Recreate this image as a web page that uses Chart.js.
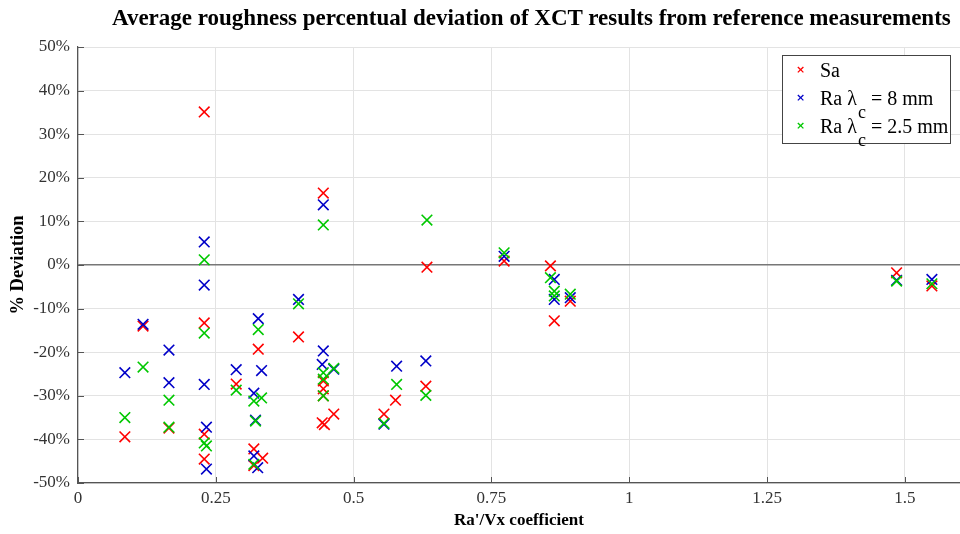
<!DOCTYPE html>
<html>
<head>
<meta charset="utf-8">
<script src="https://cdn.jsdelivr.net/npm/chart.js@4/dist/chart.umd.min.js"></script>
<style>
  html, body { margin: 0; padding: 0; background: #fff; overflow: hidden; }
  #wrap { position: relative; width: 960px; height: 534px; overflow: hidden; }
  #title {
    position: absolute; left: 112px; top: 5px; white-space: nowrap;
    font: bold 23px "Liberation Serif", "Times New Roman", serif; color: #000;
  }
  #legend {
    position: absolute; left: 782px; top: 55px; width: 169px; height: 89px;
    border: 1px solid #444; background: #fff; box-sizing: border-box;
    font: 20px "Liberation Serif", "Times New Roman", serif; color: #000;
  }
  #legend .row { position: absolute; left: 0; height: 22px; line-height: 22px; white-space: nowrap; }
  #legend .mk { position: absolute; left: 13px; top: 0; font: bold 11px/22px "DejaVu Sans", sans-serif; }
  #legend .tx { position: absolute; left: 37px; top: 0; }
  #legend sub { font-size: 18px; vertical-align: -13px; line-height: 0; margin-left: 1px; }
</style>
</head>
<body>
<div id="wrap">
  <canvas id="plot" width="960" height="534"></canvas>
  <div id="title">Average roughness percentual deviation of XCT results from reference measurements</div>
  <div id="legend">
    <div class="row" style="top:3px"><span class="mk" style="color:#f00">×</span><span class="tx">Sa</span></div>
    <div class="row" style="top:31px"><span class="mk" style="color:#0000c8">×</span><span class="tx">Ra λ<sub>c</sub> = 8 mm</span></div>
    <div class="row" style="top:59px"><span class="mk" style="color:#00c800">×</span><span class="tx">Ra λ<sub>c</sub> = 2.5 mm</span></div>
  </div>
</div>
<script>
// Sa deviation (%) against Ra'/Vx
const saX = [0.085, 0.118, 0.165, 0.229, 0.229, 0.229, 0.229, 0.287, 0.319, 0.335, 0.319, 0.327, 0.400,
  0.445, 0.445, 0.445, 0.445, 0.443, 0.447, 0.464, 0.555, 0.576, 0.633, 0.631, 0.773, 0.857, 0.864, 0.893, 1.485, 1.549];
const saY = [-39.4, -14.0, -37.4, 35.1, -13.3, -38.8, -44.5, -27.3, -42.2, -44.3, -46.0, -19.3, -16.5,
  16.5, -26.6, -28.4, -30.0, -36.2, -36.6, -34.2, -34.2, -31.0, -0.5, -27.8, 0.9, -0.2, -12.8, -8.3, -1.8, -4.8];

// Ra, cut-off 8 mm
const ra8X = [0.085, 0.118, 0.165, 0.165, 0.229, 0.229, 0.229, 0.233, 0.233, 0.287, 0.319, 0.322, 0.327, 0.333, 0.319,
  0.326, 0.400, 0.445, 0.445, 0.443, 0.464, 0.555, 0.578, 0.631, 0.773, 0.864, 0.864, 0.893, 1.485, 1.549];
const ra8Y = [-24.7, -13.6, -19.5, -27.0, 5.3, -4.6, -27.4, -37.2, -46.8, -24.0, -29.4, -35.6, -12.3, -24.2, -43.8,
  -46.5, -7.9, 13.8, -19.7, -22.8, -23.9, -36.5, -23.2, -22.0, 2.0, -3.3, -7.9, -7.5, -3.5, -3.3];

// Ra, cut-off 2.5 mm
const ra25X = [0.085, 0.118, 0.165, 0.165, 0.229, 0.229, 0.229, 0.233, 0.287, 0.319, 0.333, 0.327, 0.322, 0.319,
  0.400, 0.445, 0.445, 0.445, 0.445, 0.464, 0.555, 0.578, 0.633, 0.631, 0.773, 0.857, 0.864, 0.864, 0.893, 1.485, 1.549];
const ra25Y = [-35.0, -23.4, -31.0, -37.2, 1.2, -15.6, -40.8, -41.5, -28.7, -31.2, -30.5, -14.8, -35.8, -45.7,
  -8.9, 9.2, -24.7, -26.2, -30.0, -23.7, -36.3, -27.4, 10.3, -29.9, 2.8, -2.9, -6.0, -7.1, -6.7, -3.7, -4.3];

const xTicks = [0, 0.25, 0.5, 0.75, 1, 1.25, 1.5];
const yTicks = [-50, -40, -30, -20, -10, 0, 10, 20, 30, 40, 50];

const pts = (xs, ys) => xs.map((x, i) => ({ x: x, y: ys[i] }));
const serif = '"Liberation Serif", "Times New Roman", serif';

function series(label, xs, ys, color, order) {
  return {
    label: label,
    data: pts(xs, ys),
    order: order,
    pointStyle: 'crossRot',
    pointRadius: 7.5,
    pointHoverRadius: 7.5,
    pointBorderWidth: 1.6,
    borderColor: color,
    backgroundColor: color,
    showLine: false
  };
}

// short inward tick marks on the left and bottom axes
const innerTicks = {
  id: 'innerTicks',
  afterDraw(chart) {
    const { ctx, chartArea: a, scales: { x, y } } = chart;
    ctx.save();
    ctx.strokeStyle = '#555';
    ctx.lineWidth = 1;
    ctx.beginPath();
    yTicks.forEach(v => {
      const py = Math.round(y.getPixelForValue(v)) + 0.5;
      ctx.moveTo(a.left, py); ctx.lineTo(a.left + 6, py);
    });
    xTicks.forEach(v => {
      const px = Math.round(x.getPixelForValue(v)) + 0.5;
      ctx.moveTo(px, a.bottom); ctx.lineTo(px, a.bottom - 6);
    });
    ctx.stroke();
    ctx.restore();
  }
};

new Chart(document.getElementById('plot'), {
  type: 'scatter',
  data: {
    datasets: [
      series('Sa', saX, saY, '#ff0000', 3),
      series('Ra λc = 8 mm', ra8X, ra8Y, '#0000c8', 2),
      series('Ra λc = 2.5 mm', ra25X, ra25Y, '#00c800', 1)
    ]
  },
  options: {
    responsive: false,
    animation: false,
    layout: { autoPadding: false, padding: { top: 47, right: 0, left: 0, bottom: 0 } },
    plugins: { legend: { display: false }, tooltip: { enabled: false }, title: { display: false } },
    scales: {
      x: {
        type: 'linear',
        min: 0,
        max: 1.6,
        afterBuildTicks: s => { s.ticks = xTicks.map(v => ({ value: v })); },
        afterFit: s => { s.height = 51; s.paddingLeft = 0; s.paddingRight = 0; },
        grid: { color: '#e3e3e3', drawTicks: false },
        border: { color: '#555', width: 1.2 },
        ticks: {
          padding: 5,
          color: '#333',
          font: { family: serif, size: 17 },
          callback: v => String(v)
        },
        title: {
          display: true,
          text: "Ra'/Vx coefficient",
          color: '#000',
          font: { family: serif, size: 17, weight: 'bold' },
          padding: { top: 0, bottom: 3 }
        }
      },
      y: {
        type: 'linear',
        min: -50,
        max: 50,
        afterBuildTicks: s => { s.ticks = yTicks.map(v => ({ value: v })); },
        afterFit: s => { s.width = 78; },
        grid: {
          drawTicks: false,
          color: c => c.tick && c.tick.value === 0 ? '#777' : '#e3e3e3',
          lineWidth: c => c.tick && c.tick.value === 0 ? 1.4 : 1
        },
        border: { color: '#555', width: 1.2 },
        ticks: {
          padding: 8,
          color: '#333',
          font: { family: serif, size: 17 },
          callback: v => v + '%'
        },
        title: {
          display: true,
          text: '% Deviation',
          color: '#000',
          font: { family: serif, size: 18.5, weight: 'bold' },
          padding: { top: 7, bottom: 0 }
        }
      }
    }
  },
  plugins: [innerTicks]
});
</script>
</body>
</html>
